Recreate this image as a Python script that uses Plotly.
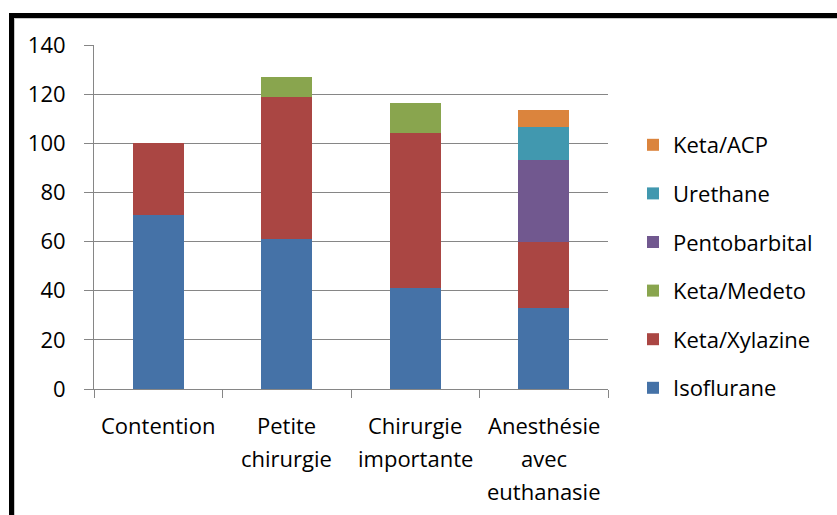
import plotly.graph_objects as go

# Categories (x axis) and stacked series values
categories = ["Contention", "Petite\nchirurgie", "Chirurgie\nimportante", "Anesthésie\navec\neuthanasie"]
isoflurane = [71, 61, 41, 33]
keta_xylazine = [29, 58, 63, 27]
keta_medeto = [0, 8, 12.6, 0]
pentobarbital = [0, 0, 0, 33]
urethane = [0, 0, 0, 13.6]
keta_acp = [0, 0, 0, 6.8]

y_ticks = [0, 20, 40, 60, 80, 100, 120, 140]

series = [
    ("Isoflurane", isoflurane, "#4572A7"),
    ("Keta/Xylazine", keta_xylazine, "#AA4643"),
    ("Keta/Medeto", keta_medeto, "#89A54E"),
    ("Pentobarbital", pentobarbital, "#71588F"),
    ("Urethane", urethane, "#4198AF"),
    ("Keta/ACP", keta_acp, "#DB843D"),
]

W, H = 837, 515
L, R, T, B = 94, 229, 45, 126
FONT = "Open Sans"
FS = 22

fig = go.Figure()
n = len(series)
for i, (name, vals, color) in enumerate(series):
    fig.add_trace(go.Bar(
        x=categories, y=vals, name=name,
        marker=dict(color=color, line=dict(width=0)),
        legendgroup=f"g{i}", legendrank=n - i,
    ))


def px_x(p):
    return (p - L) / (W - L - R)


def px_y(p):
    return (H - B - p) / (H - T - B)


# Category labels drawn line by line below the axis
annotations = []
for cat in categories:
    for j, line in enumerate(cat.split("\n")):
        annotations.append(dict(
            x=cat, xref="x", y=0, yref="paper", text=line, showarrow=False,
            yanchor="middle", xanchor="center", yshift=-(36 + 33 * j),
            font=dict(family=FONT, size=FS, color="#000000"),
        ))

shapes = [
    # heavy black frame (top and left)
    dict(type="line", xref="paper", yref="paper", x0=px_x(9), x1=px_x(W + 5),
         y0=px_y(15.5), y1=px_y(15.5), line=dict(color="#000000", width=5)),
    dict(type="line", xref="paper", yref="paper", x0=px_x(11.5), x1=px_x(11.5),
         y0=px_y(13), y1=px_y(H + 5), line=dict(color="#000000", width=5)),
    # thin grey inner edge
    dict(type="line", xref="paper", yref="paper", x0=px_x(14), x1=px_x(W + 5),
         y0=px_y(18.5), y1=px_y(18.5), line=dict(color="#c8c8c8", width=1)),
    dict(type="line", xref="paper", yref="paper", x0=px_x(14.5), x1=px_x(14.5),
         y0=px_y(18), y1=px_y(H + 5), line=dict(color="#c8c8c8", width=1)),
]

fig.update_layout(
    width=W, height=H,
    margin=dict(l=L, r=R, t=T, b=B),
    barmode="stack", bargap=0.6,
    paper_bgcolor="white", plot_bgcolor="white",
    font=dict(family=FONT, size=FS, color="#000000"),
    showlegend=True,
    legend=dict(
        traceorder="grouped", tracegroupgap=17,
        x=px_x(633), xanchor="left", y=px_y(124), yanchor="top",
        font=dict(family=FONT, size=FS, color="#000000"),
        bgcolor="rgba(0,0,0,0)", itemclick=False,
    ),
    xaxis=dict(
        showticklabels=False, ticks="outside", tickson="boundaries", ticklen=8,
        tickcolor="#868686", showline=True, linecolor="#868686", linewidth=1,
        showgrid=False, fixedrange=True,
    ),
    yaxis=dict(
        range=[0, 140], tickvals=y_ticks, ticks="outside", ticklen=9,
        tickcolor="#868686", showline=True, linecolor="#868686", linewidth=1,
        showgrid=True, gridcolor="#868686", gridwidth=1, zeroline=False,
        tickfont=dict(family=FONT, size=FS, color="#000000"),
        ticklabelstandoff=14, fixedrange=True,
    ),
    annotations=annotations,
    shapes=shapes,
)

fig.write_html("out.html")
